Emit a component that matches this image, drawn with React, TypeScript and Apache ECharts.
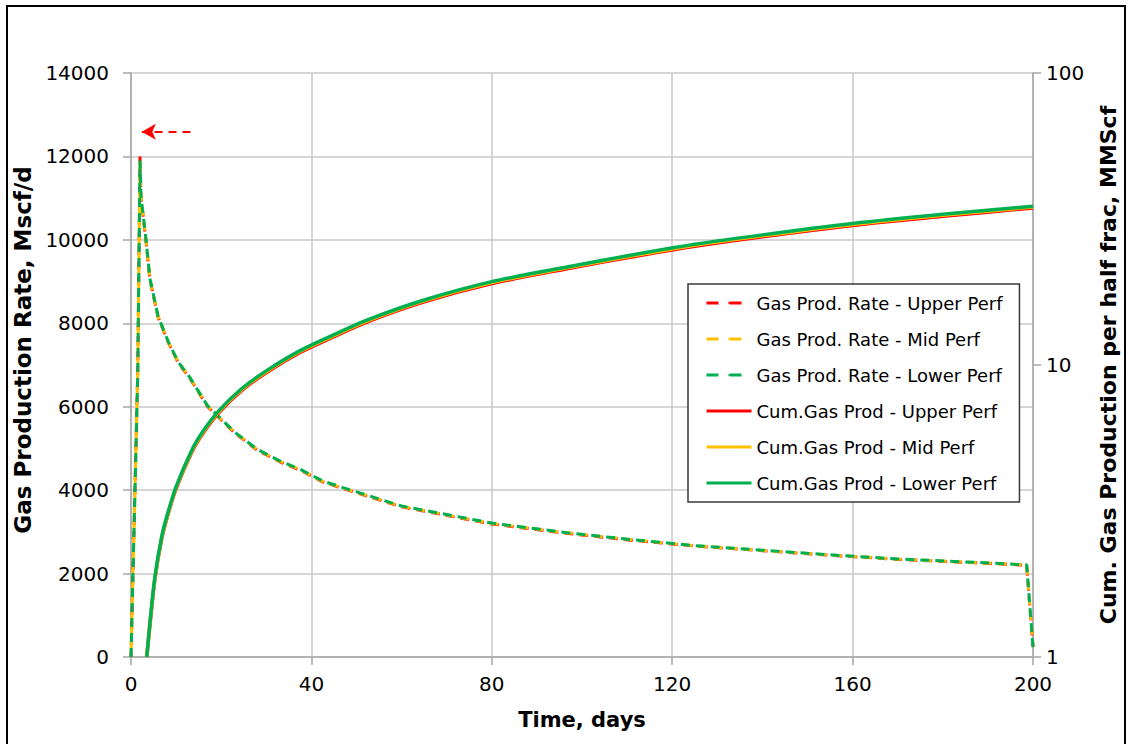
import { useEffect, useRef } from "react";
import * as echarts from "echarts";

// Gas production rate, Mscf/d, against time in days
const rateDays = [0, 1.5, 2, 2.2, 3.3, 4.2, 6, 8.3, 10.5, 13, 17, 23, 28, 33, 37.5, 42.5, 47, 60, 80, 97, 111, 125, 140, 155, 170, 185, 198.6, 200];
const rateUpper = [0, 6900, 12000, 11030, 10000, 9040, 8150, 7530, 7050, 6690, 6000, 5370, 4960, 4680, 4480, 4200, 4040, 3600, 3190, 2960, 2800, 2660, 2550, 2440, 2340, 2270, 2200, 250];
const rateMid = [0, 6850, 11950, 11050, 10020, 9060, 8160, 7540, 7060, 6700, 6010, 5380, 4970, 4690, 4490, 4210, 4050, 3610, 3200, 2970, 2810, 2665, 2555, 2445, 2345, 2275, 2205, 240];
const rateLower = [0, 6800, 11900, 11060, 10030, 9070, 8170, 7550, 7070, 6710, 6020, 5390, 4980, 4700, 4500, 4220, 4060, 3620, 3210, 2975, 2815, 2670, 2560, 2450, 2350, 2280, 2210, 230];

// Cumulative gas production per half frac, MMScf
const cumDays = [3.5, 4.2, 5.3, 6.8, 8, 10, 13.5, 16, 19.4, 24.5, 30.4, 37.5, 45, 52, 65, 80, 97, 111, 125, 140, 160, 180, 200];
const cumUpper = [1, 1.29, 1.85, 2.54, 3.0, 3.77, 5.04, 5.85, 6.85, 8.17, 9.5, 11.03, 12.5, 13.98, 16.45, 19.0, 21.4, 23.45, 25.5, 27.5, 30.05, 32.3, 34.5];
const cumMid = [1, 1.3, 1.86, 2.56, 3.02, 3.8, 5.08, 5.9, 6.9, 8.23, 9.57, 11.12, 12.6, 14.08, 16.58, 19.15, 21.55, 23.6, 25.7, 27.7, 30.3, 32.55, 34.75];
const cumLower = [1, 1.31, 1.88, 2.58, 3.05, 3.83, 5.12, 5.94, 6.95, 8.29, 9.64, 11.2, 12.7, 14.2, 16.7, 19.3, 21.7, 23.8, 25.9, 27.9, 30.5, 32.8, 35.0];

// Annotation arrow pointing back to the peak rate
const arrowFrom = [13.2, 12590];
const arrowTo = [2.4, 12590];

const xTicks = { min: 0, max: 200, interval: 40 };
const rateAxis = { min: 0, max: 14000, interval: 2000 };
const cumAxis = { min: 1, max: 100 };

const legendNames = [
  "Gas Prod. Rate - Upper Perf",
  "Gas Prod. Rate - Mid Perf",
  "Gas Prod. Rate - Lower Perf",
  "Cum.Gas Prod - Upper Perf",
  "Cum.Gas Prod - Mid Perf",
  "Cum.Gas Prod - Lower Perf",
];

const RED = "#ff0000";
const ORANGE = "#ffc000";
const GREEN = "#00b050";
const FONT = "DejaVu Sans";

const pair = (xs: number[], ys: number[]) => xs.map((x, i) => [x, ys[i]]);

export default function App() {
  const ref = useRef<HTMLDivElement>(null);

  useEffect(() => {
    const chart = echarts.init(ref.current!, null, { renderer: "svg" });

    const rateSeries = (name: string, color: string, data: number[], offset: number, extra: any = {}) => ({
      name,
      type: "line",
      yAxisIndex: 0,
      data: pair(rateDays, data),
      symbol: "none",
      lineStyle: { color, width: 3, type: [9, 6], dashOffset: offset, cap: "butt" },
      itemStyle: { color },
      ...extra,
    });

    const cumSeries = (name: string, color: string, data: number[]) => ({
      name,
      type: "line",
      yAxisIndex: 1,
      data: pair(cumDays, data),
      symbol: "none",
      smooth: 0.3,
      lineStyle: { color, width: 3.5 },
      itemStyle: { color },
    });

    const axisLineGray = { show: true, lineStyle: { color: "#a6a6a6", width: 1.5 } };
    const tickGray = { show: true, inside: false, length: 8, lineStyle: { color: "#a6a6a6", width: 1.5 } };
    const plain = (v: number) => String(v);

    chart.setOption({
      animation: false,
      backgroundColor: "#ffffff",
      textStyle: { fontFamily: FONT },
      grid: { left: 131, right: 96, top: 73, bottom: 87, containLabel: false },
      xAxis: {
        type: "value",
        ...xTicks,
        name: "Time, days",
        nameLocation: "middle",
        nameGap: 52,
        nameTextStyle: { fontFamily: FONT, fontWeight: "bold", fontSize: 21, color: "#000" },
        axisLine: axisLineGray,
        axisTick: tickGray,
        axisLabel: { color: "#000", fontSize: 20, fontFamily: FONT, margin: 17, formatter: plain },
        splitLine: { show: true, lineStyle: { color: "#c8c8c8", width: 1.5 } },
      },
      yAxis: [
        {
          type: "value",
          position: "left",
          ...rateAxis,
          name: "Gas Production Rate, Mscf/d",
          nameLocation: "middle",
          nameGap: 92,
          nameRotate: 90,
          nameTextStyle: { fontFamily: FONT, fontWeight: "bold", fontSize: 23, color: "#000", padding: [0, 0, 0, 30] },
          axisLine: axisLineGray,
          axisTick: tickGray,
          axisLabel: { color: "#000", fontSize: 20, fontFamily: FONT, margin: 22, formatter: plain },
          splitLine: { show: true, lineStyle: { color: "#c8c8c8", width: 1.5 } },
        },
        {
          type: "log",
          logBase: 10,
          position: "right",
          ...cumAxis,
          name: "Cum. Gas Production per half frac, MMScf",
          nameLocation: "middle",
          nameGap: 64,
          nameRotate: 90,
          nameTextStyle: { fontFamily: FONT, fontWeight: "bold", fontSize: 22, color: "#000" },
          axisLine: axisLineGray,
          axisTick: tickGray,
          minorTick: { show: false },
          axisLabel: { color: "#000", fontSize: 20, fontFamily: FONT, margin: 13, formatter: plain },
          splitLine: { show: false },
        },
      ],
      legend: {
        orient: "vertical",
        left: 688,
        top: 284,
        padding: [9, 17, 9, 17],
        itemWidth: 45,
        itemHeight: 2,
        itemGap: 16,
        backgroundColor: "#ffffff",
        borderColor: "#3a3a3a",
        borderWidth: 1.5,
        textStyle: { fontFamily: FONT, fontSize: 18, color: "#000", lineHeight: 20 },
        data: legendNames.map((name, i) =>
          i < 3
            ? { name, lineStyle: { type: [12, 11], dashOffset: 0, width: 3 } }
            : { name, lineStyle: { width: 3 } }
        ),
      },
      graphic: [
        {
          type: "rect",
          shape: { x: 7, y: 6, width: 1118, height: 760 },
          style: { fill: "none", stroke: "#000", lineWidth: 2 },
          silent: true,
        },
      ],
      series: [
        rateSeries(legendNames[0], RED, rateUpper, 3, {
          markLine: {
            silent: true,
            symbol: ["none", "arrow"],
            symbolSize: [12, 14],
            label: { show: false },
            lineStyle: { color: RED, width: 2, type: [8, 6] },
            data: [[{ coord: arrowFrom }, { coord: arrowTo }]],
          },
        }),
        rateSeries(legendNames[1], ORANGE, rateMid, 7.5),
        rateSeries(legendNames[2], GREEN, rateLower, 0),
        cumSeries(legendNames[3], RED, cumUpper),
        cumSeries(legendNames[4], ORANGE, cumMid),
        cumSeries(legendNames[5], GREEN, cumLower),
      ],
    });

    return () => chart.dispose();
  }, []);

  return (
    <div
      ref={ref}
      style={{ position: "fixed", left: 0, top: 0, width: 1129, height: 744, background: "#fff" }}
    />
  );
}
